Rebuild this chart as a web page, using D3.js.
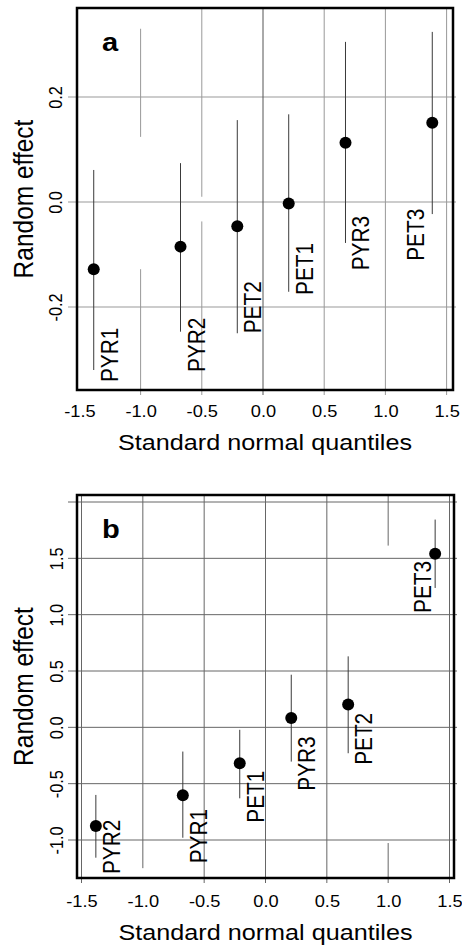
<!DOCTYPE html>
<html>
<head>
<meta charset="utf-8">
<script src="https://cdn.jsdelivr.net/npm/d3@7/dist/d3.min.js"></script>
<style>
  html, body { margin: 0; padding: 0; background: #fff; }
  svg { display: block; }
  text { font-family: "Liberation Sans", Arial, Helvetica, sans-serif; fill: #000; }
</style>
</head>
<body>
<svg id="chart" width="462" height="946"></svg>
<script>
// ---------- Data ----------
const xTickValues = [-1.5, -1.0, -0.5, 0.0, 0.5, 1.0, 1.5];
const xTickLabels = ["-1.5", "-1.0", "-0.5", "0.0", "0.5", "1.0", "1.5"];
const xTitle = "Standard normal quantiles";
const yTitle = "Random effect";

// Panel a
const aLetter = "a";
const aNames = ["PYR1", "PYR2", "PET2", "PET1", "PYR3", "PET3"];
const aQuantiles = [-1.383, -0.674, -0.210, 0.210, 0.674, 1.383];
const aEffects = [-0.128, -0.085, -0.046, -0.003, 0.113, 0.151];
const aLower = [-0.320, -0.247, -0.250, -0.171, -0.078, -0.023];
const aUpper = [0.061, 0.074, 0.156, 0.167, 0.305, 0.324];
const aLabelStart = [-0.343, -0.324, -0.250, -0.177, -0.130, -0.112];
const aLabelSide = ["right", "right", "right", "right", "right", "left"];
const aYTickValues = [-0.2, 0.0, 0.2];
const aYTickLabels = ["-0.2", "0.0", "0.2"];
const aYGrid = [-0.2, 0.0, 0.2];
// vertical grid segments: [x, yFrom, yTo] (null = plot edge)
const aXGrid = [
  [-1.0, 0.33, 0.124], [-1.0, -0.128, null],
  [-0.5, null, 0.01], [-0.5, -0.037, null],
  [0.0, null, null], [0.5, null, null], [1.0, null, null], [1.5, null, null]
];

// Panel b
const bLetter = "b";
const bNames = ["PYR2", "PYR1", "PET1", "PYR3", "PET2", "PET3"];
const bQuantiles = [-1.383, -0.674, -0.210, 0.210, 0.674, 1.383];
const bEffects = [-0.876, -0.603, -0.318, 0.082, 0.203, 1.540];
const bLower = [-1.157, -0.980, -0.630, -0.304, -0.230, 1.237];
const bUpper = [-0.600, -0.215, -0.022, 0.467, 0.630, 1.844];
const bLabelStart = [-1.302, -1.207, -0.846, -0.562, -0.333, 1.015];
const bLabelSide = ["right", "right", "right", "right", "right", "left"];
const bYTickValues = [-1.0, -0.5, 0.0, 0.5, 1.0, 1.5];
const bYTickLabels = ["-1.0", "-0.5", "0.0", "0.5", "1.0", "1.5"];
const bYGrid = [-1.0, -0.5, 0.0, 0.5, 1.0, 1.5, 2.0];
const bXGrid = [
  [-1.5, null, null], [-1.0, null, -1.25], [-0.5, null, null], [0.0, null, null],
  [0.5, null, null], [1.0, null, 1.613], [1.0, -1.027, null], [1.5, null, null]
];

// ---------- Drawing ----------
const SX = 1.12; // horizontal stretch of the original print
const svg = d3.select("#chart");

function panel(cfg) {
  const g = svg.append("g");
  const x = d3.scaleLinear().domain([-1.5, 1.5]).range(cfg.xRange);
  const y = d3.scaleLinear().domain(cfg.yDom).range(cfg.yRange);
  const [bx0, bx1, by0, by1] = cfg.box;

  // horizontal grid lines
  g.selectAll(".hg").data(cfg.yGrid).join("line")
    .attr("x1", bx0 - 9).attr("x2", bx1 + 3)
    .attr("y1", d => y(d)).attr("y2", d => y(d))
    .attr("stroke", cfg.gridColor).attr("stroke-width", 1);

  // vertical grid lines
  g.selectAll(".vg").data(cfg.xGrid).join("line")
    .attr("x1", d => x(d[0])).attr("x2", d => x(d[0]))
    .attr("y1", d => d[1] === null ? by0 : y(d[1]))
    .attr("y2", d => d[2] === null ? by1 + 5 : y(d[2]))
    .attr("stroke", d => d[0] === 0 ? cfg.zeroColor : cfg.gridColor)
    .attr("stroke-width", 1);

  const rows = cfg.names.map((n, i) => ({
    name: n, q: cfg.q[i], e: cfg.e[i], lo: cfg.lo[i], hi: cfg.hi[i],
    ls: cfg.labelStart[i], side: cfg.side[i]
  }));

  // error bars
  g.selectAll(".eb").data(rows).join("line")
    .attr("x1", d => x(d.q)).attr("x2", d => x(d.q))
    .attr("y1", d => y(d.lo)).attr("y2", d => y(d.hi))
    .attr("stroke", "#3a3a3a").attr("stroke-width", 1);

  // points
  g.selectAll(".pt").data(rows).join("circle")
    .attr("cx", d => x(d.q)).attr("cy", d => y(d.e))
    .attr("r", 6).attr("fill", "#000");

  // point labels (rotated)
  g.selectAll(".lb").data(rows).join("text")
    .attr("transform", d => {
      const bx = d.side === "right" ? x(d.q) + 24 : x(d.q) + cfg.leftOff;
      return `translate(${bx},${y(d.ls)}) scale(${SX},1) rotate(-90)`;
    })
    .attr("text-anchor", "start")
    .style("font-size", "20.8px")
    .text(d => d.name);

  // box
  g.append("rect")
    .attr("x", bx0).attr("y", by0)
    .attr("width", bx1 - bx0).attr("height", by1 - by0)
    .attr("fill", "none").attr("stroke", "#000").attr("stroke-width", 2.5);

  // panel letter
  g.append("text")
    .attr("transform", `translate(${bx0 + 25},${by0 + 43}) scale(${SX},1)`)
    .style("font-size", "26px").style("font-weight", "bold")
    .text(cfg.letter);

  // x axis labels
  const xa = g.append("g")
    .attr("transform", `translate(0,${cfg.xTickBase})`)
    .call(d3.axisBottom(x).tickValues(xTickValues)
      .tickFormat((d, i) => xTickLabels[i]).tickSize(0).tickPadding(0));
  xa.select(".domain").remove();
  xa.selectAll(".tick line").remove();
  xa.selectAll(".tick text")
    .attr("y", null).attr("dy", null)
    .attr("transform", `scale(${SX},1)`)
    .attr("fill", "#000")
    .style("font-size", "16.3px")
    .style("font-family", "'Liberation Sans', Arial, sans-serif");

  // y axis labels
  const ya = g.append("g")
    .attr("transform", `translate(${cfg.yTickBase},0)`)
    .call(d3.axisLeft(y).tickValues(cfg.yTicks)
      .tickFormat((d, i) => cfg.yTickLabels[i]).tickSize(0).tickPadding(0));
  ya.select(".domain").remove();
  ya.selectAll(".tick line").remove();
  ya.selectAll(".tick text")
    .attr("x", null).attr("dy", null)
    .attr("text-anchor", "middle")
    .attr("transform", `scale(${SX},1) rotate(-90)`)
    .attr("fill", "#000")
    .style("font-size", "16.3px")
    .style("font-family", "'Liberation Sans', Arial, sans-serif");

  // titles
  g.append("text")
    .attr("transform", `translate(${(bx0 + bx1) / 2},${cfg.xTitleBase}) scale(${SX},1)`)
    .attr("text-anchor", "middle")
    .style("font-size", "22.5px")
    .text(xTitle);
  g.append("text")
    .attr("transform", `translate(33,${(by0 + by1) / 2}) scale(${SX},1) rotate(-90)`)
    .attr("text-anchor", "middle")
    .style("font-size", "24.5px")
    .text(yTitle);
}

panel({
  letter: aLetter, names: aNames, q: aQuantiles, e: aEffects, lo: aLower, hi: aUpper,
  labelStart: aLabelStart, side: aLabelSide, leftOff: -8,
  xRange: [79.4, 446.6], yDom: [-0.2, 0.2], yRange: [307, 97],
  box: [77, 453, 8, 390], yGrid: aYGrid, xGrid: aXGrid,
  yTicks: aYTickValues, yTickLabels: aYTickLabels,
  gridColor: "#999", zeroColor: "#555",
  xTickBase: 417, xTitleBase: 450, yTickBase: 62
});

panel({
  letter: bLetter, names: bNames, q: bQuantiles, e: bEffects, lo: bLower, hi: bUpper,
  labelStart: bLabelStart, side: bLabelSide, leftOff: -4,
  xRange: [81.5, 449.5], yDom: [-1, 2], yRange: [840, 502],
  box: [77, 454, 495, 878], yGrid: bYGrid, xGrid: bXGrid,
  yTicks: bYTickValues, yTickLabels: bYTickLabels,
  gridColor: "#666", zeroColor: "#666",
  xTickBase: 907, xTitleBase: 940, yTickBase: 63
});
</script>
</body>
</html>
